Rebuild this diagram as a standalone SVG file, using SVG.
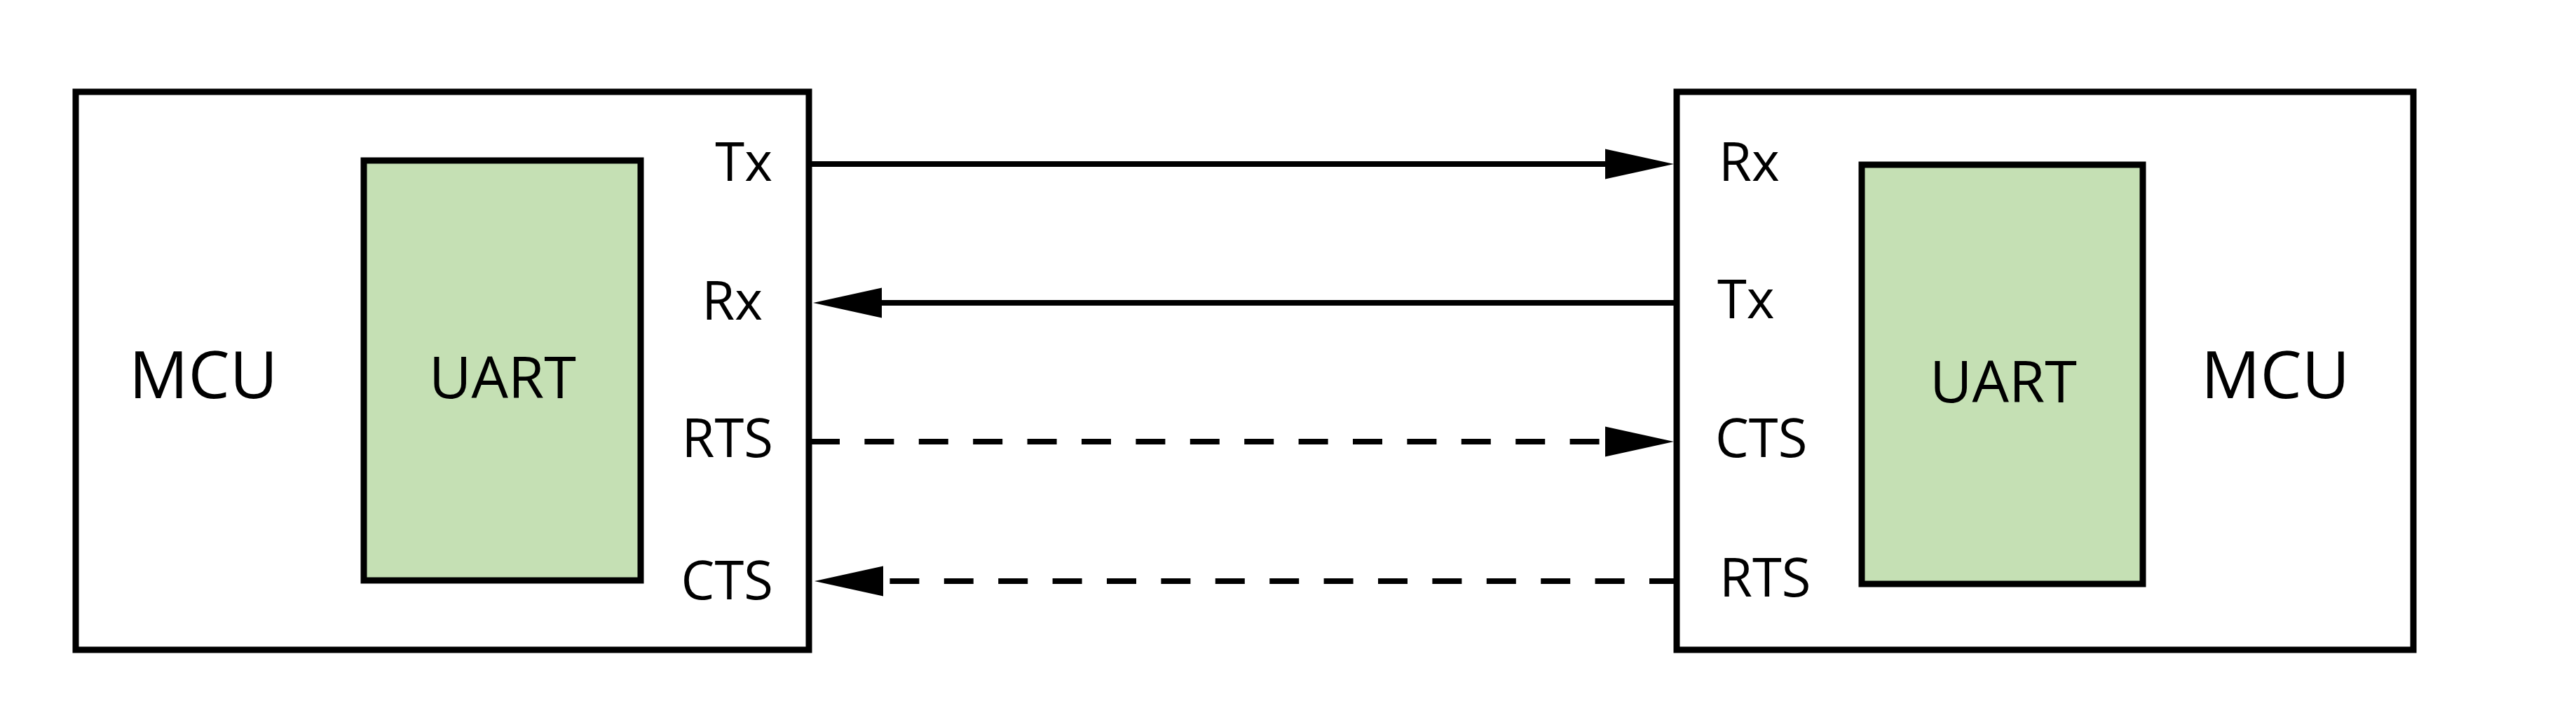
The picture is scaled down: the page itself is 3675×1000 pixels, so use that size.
<svg xmlns="http://www.w3.org/2000/svg" width="3675" height="1000" viewBox="0 0 3675 1000">
<style>
.box{fill:#ffffff;stroke:#000;stroke-width:9}
.uart{fill:#C5E0B4;stroke:#000;stroke-width:9}
.t{font-family:"Open Sans","Liberation Sans",sans-serif;fill:#000}
.pin{font-size:76px}
.big{font-size:94px}
.mid{font-size:83px}
.wire{stroke:#000;stroke-width:8;fill:none}
.dash{stroke-dasharray:42 35.4}
</style>
<defs>
<marker id="ah" markerUnits="userSpaceOnUse" markerWidth="98" markerHeight="44" refX="0" refY="21.5" orient="auto" viewBox="0 0 98 43">
<path d="M0,0 L98,21.5 L0,43 Z" fill="#000"/>
</marker>
</defs>
<rect width="3675" height="1000" fill="#fff"/>
<g id="mcu-left">
<rect class="box" x="108" y="131" width="1046" height="796"/>
<text class="t big" x="184" y="568">MCU</text>
<g id="uart-left">
<rect class="uart" x="519" y="229" width="395" height="599"/>
<text class="t mid" x="717" y="568" text-anchor="middle">UART</text>
</g>
<text class="t pin" x="1102" y="258" text-anchor="end">Tx</text>
<text class="t pin" x="1088" y="456" text-anchor="end">Rx</text>
<text class="t pin" x="1103" y="652" text-anchor="end">RTS</text>
<text class="t pin" x="1103" y="855" text-anchor="end">CTS</text>
</g>
<g id="mcu-right">
<rect class="box" x="2392" y="131" width="1051" height="796"/>
<text class="t big" x="3140" y="568">MCU</text>
<g id="uart-right">
<rect class="uart" x="2656" y="235" width="401" height="598"/>
<text class="t mid" x="2858" y="574" text-anchor="middle">UART</text>
</g>
<text class="t pin" x="2452" y="258">Rx</text>
<text class="t pin" x="2450" y="454">Tx</text>
<text class="t pin" x="2447" y="652">CTS</text>
<text class="t pin" x="2453" y="851">RTS</text>
</g>
<g id="connectors">
<line class="wire" x1="1154" y1="234" x2="2290" y2="234" marker-end="url(#ah)"/>
<line class="wire" x1="2392" y1="432" x2="1258" y2="432" marker-end="url(#ah)"/>
<line class="wire dash" x1="1156" y1="630" x2="2290" y2="630" marker-end="url(#ah)"/>
<line class="wire dash" x1="2395" y1="829" x2="1260" y2="829" marker-end="url(#ah)"/>
</g>
</svg>
